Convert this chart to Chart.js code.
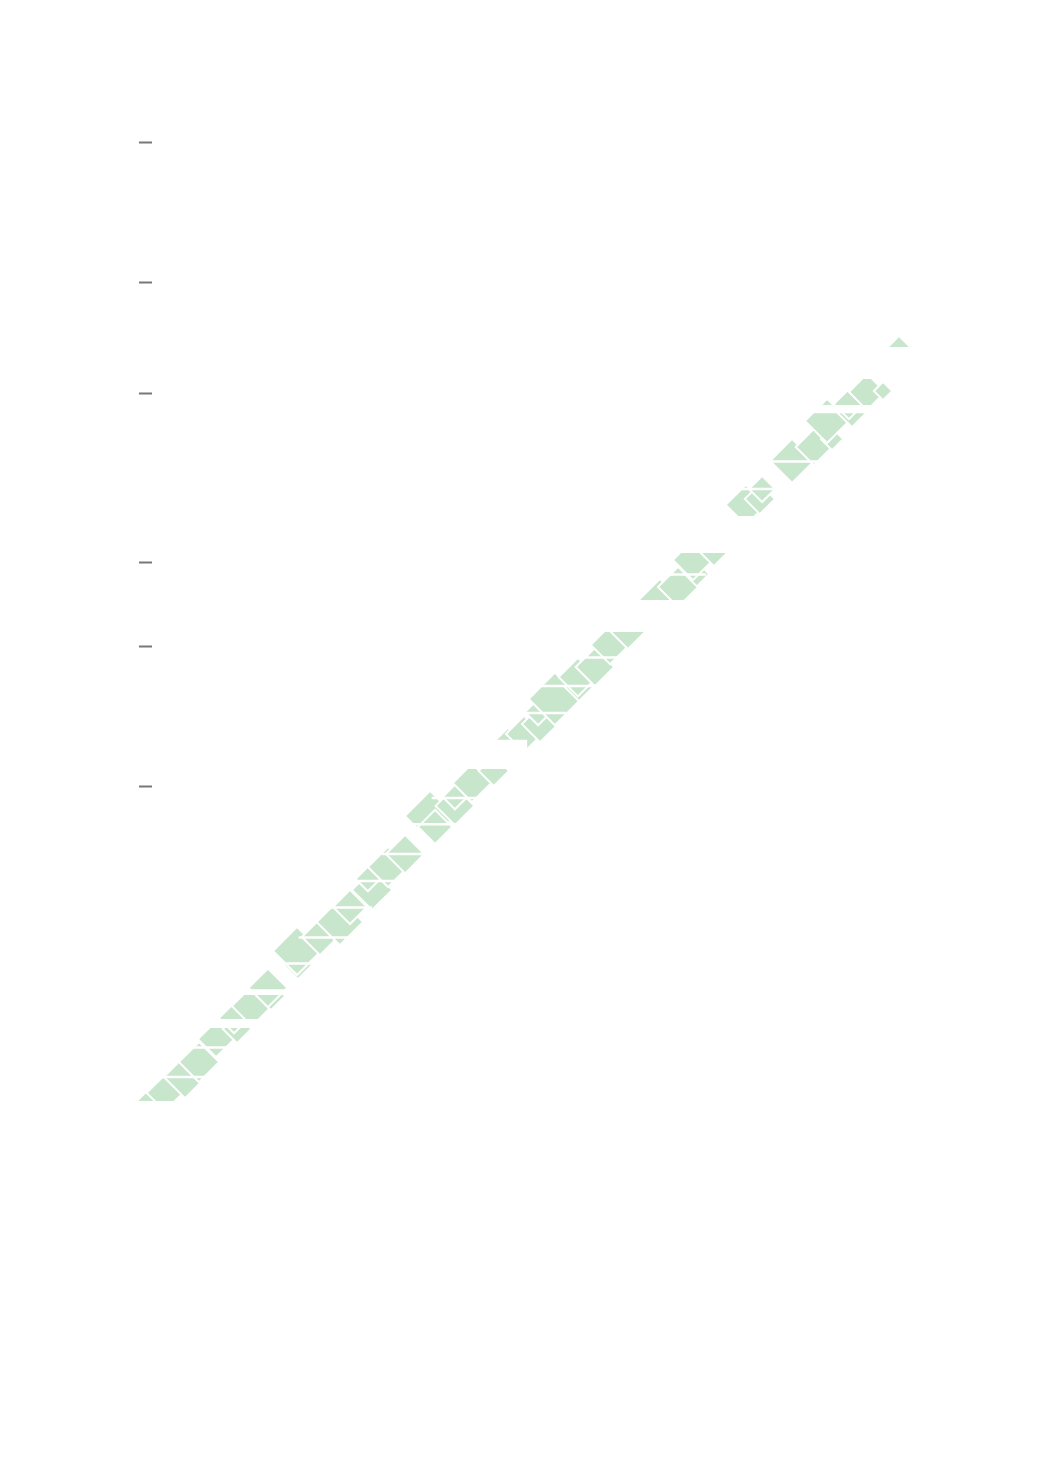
<!DOCTYPE html>
<html>
<head>
<meta charset="utf-8">
<script src="https://cdn.jsdelivr.net/npm/chart.js@4/dist/chart.umd.min.js"></script>
<style>
    html, body { margin: 0; padding: 0; background: #ffffff; }
    #wrap { width: 1040px; height: 1471px; }
</style>
</head>
<body>
<div id="wrap"><canvas id="canvas-chart" width="1040" height="1471"></canvas></div>
<script>
// Diamond marks (centre x, centre y, half diagonal), in axis units
const diamondX = [-0.07, 0.46, 1.18, 1.68, 2.29, 3.04, 2.93, 3.57, 4.25, 4.14, 5.21, 5.18, 6.0, 6.71, 7.07,
    7.86, 7.71, 8.43, 9.04, 9.93, 10.11, 10.82, 10.82, 11.43, 12.21, 12.71, 13.29, 13.86, 13.79, 14.39,
    15.25, 15.21, 15.82, 16.36, 17.0, 18.14, 18.79, 19.46, 19.32, 20.07, 21.21, 21.71,
    21.79, 22.86, 23.64, 24.29, 24.11, 25.0, 24.89, 25.54, 26.11, 26.68];
const diamondY = [-0.25, 0.04, 0.61, 1.14, 1.96, 2.32, 2.71, 3.14, 3.5, 3.79, 4.61, 5.11, 5.61, 6.14, 6.68,
    7.29, 7.68, 8.11, 8.57, 9.93, 9.54, 10.29, 10.61, 11.11, 11.54, 12.64, 12.86, 13.21, 13.64, 14.11,
    14.54, 14.89, 15.25, 16.04, 16.5, 17.64, 18.11, 18.57, 19.07, 19.32, 21.04, 21.25,
    21.61, 22.61, 23.11, 23.39, 24.04, 24.32, 24.64, 25.07, 25.11, 26.68];
const diamondSize = [0.47, 0.65, 0.76, 0.72, 0.65, 0.51, 0.54, 0.72, 0.51, 0.69, 0.51, 0.86, 0.65, 0.83, 0.61,
    0.72, 0.44, 0.72, 0.69, 0.9, 0.61, 0.69, 0.44, 0.69, 0.54, 0.44, 0.65, 0.65, 0.47, 0.94,
    0.51, 0.69, 0.69, 0.69, 0.61, 0.76, 0.72, 0.44, 0.72, 0.47, 0.72, 0.54,
    0.47, 0.79, 0.65, 0.4, 0.79, 0.51, 0.54, 0.65, 0.33, 0.4];

// Horizontal breaks through the band (level, from, to, height), in axis units
const cutY = [0.61, 1.66, 2.52, 3.64, 4.66, 5.59, 6.66, 7.61, 8.57, 9.63, 10.57, 12.13, 13.61, 14.57, 15.59,
    17.07, 18.55, 19.98, 21.61, 22.59, 24.46, 26.11];
const cutFrom = [0.24, 1.31, 1.4, 3.3, 4.21, 5.24, 6.31, 7.1, 8.21, 8.92, 9.99, 10.8, 12.92, 13.81, 14.99,
    16.0, 17.92, 18.3, 20.92, 21.85, 23.1, 25.0];
const cutTo = [2.11, 3.04, 3.95, 5.15, 6.15, 7.4, 7.86, 8.83, 9.83, 11.01, 11.58, 13.4, 14.79, 15.86, 16.86,
    19.45, 19.79, 21.6, 22.51, 23.79, 26.6, 27.3];
const cutHeight = [0.09, 0.09, 0.32, 0.21, 0.09, 0.09, 0.09, 0.09, 0.09, 0.09, 0.09, 1.04, 0.09, 0.09, 0.09,
    1.14, 0.09, 1.32, 0.09, 0.09, 0.29, 1.14];

// y axis tick marks (labels not shown)
const yTicks = [11, 16, 19, 25, 29, 34];

const canvasChart = document.getElementById('canvas-chart');

// units -> pixels through the scales
const spanX = (chart, v) => {
    const s = chart.scales.x;
    return Math.abs(s.getPixelForValue(v) - s.getPixelForValue(0));
};
const spanY = (chart, v) => {
    const s = chart.scales.y;
    return Math.abs(s.getPixelForValue(0) - s.getPixelForValue(v));
};

const diamondData = diamondX.map((x, i) => ({ x: x, y: diamondY[i], s: diamondSize[i] }));
const cutData = cutY.map((y, i) => ({
    x: (cutFrom[i] + cutTo[i]) / 2,
    y: y,
    half: (cutTo[i] - cutFrom[i]) / 2,
    h: cutHeight[i]
}));

const diamondRadius = (c) => c.raw ? spanY(c.chart, c.raw.s) : 0;
const cutRadius = (c) => c.raw ? spanX(c.chart, c.raw.half) : 0;
const cutWidth = (c) => c.raw ? spanY(c.chart, c.raw.h) : 0;

const chartConfig = {
    type: 'scatter',
    data: {
        datasets: [
            {
                data: diamondData,
                order: 1,
                pointStyle: 'rectRot',
                pointRadius: diamondRadius,
                pointHoverRadius: diamondRadius,
                pointBackgroundColor: '#c7e6cc',
                pointBorderColor: '#ffffff',
                pointBorderWidth: 2,
                clip: { left: 14, top: false, right: false, bottom: 0 },
            },
            {
                data: cutData,
                order: 0,
                pointStyle: 'line',
                pointRadius: cutRadius,
                pointHoverRadius: cutRadius,
                pointBorderColor: '#ffffff',
                pointBackgroundColor: '#ffffff',
                pointBorderWidth: cutWidth,
                clip: { left: 14, top: false, right: false, bottom: 0 },
            }
        ]
    },
    options: {
        responsive: false,
        devicePixelRatio: 1,
        animation: false,
        events: [],
        layout: {
            padding: { left: 139, right: 132, top: 114, bottom: 370 }
        },
        scales: {
            x: {
                type: 'linear',
                display: false,
                min: 0,
                max: 27,
            },
            y: {
                type: 'linear',
                min: -0.25,
                max: 35,
                afterBuildTicks: (axis) => {
                    axis.ticks = yTicks.map(v => ({ value: v }));
                },
                afterFit: (axis) => {
                    axis.width = 13;
                },
                ticks: {
                    display: false,
                },
                grid: {
                    drawOnChartArea: false,
                    drawTicks: true,
                    tickLength: 13,
                    tickWidth: 2,
                    tickColor: '#777777',
                },
                border: {
                    display: false,
                },
            }
        },
        plugins: {
            legend: { display: false },
            title: { display: false },
            tooltip: { enabled: false },
        }
    },
};

const bandChart = new Chart(canvasChart.getContext('2d'), chartConfig);
</script>
</body>
</html>
